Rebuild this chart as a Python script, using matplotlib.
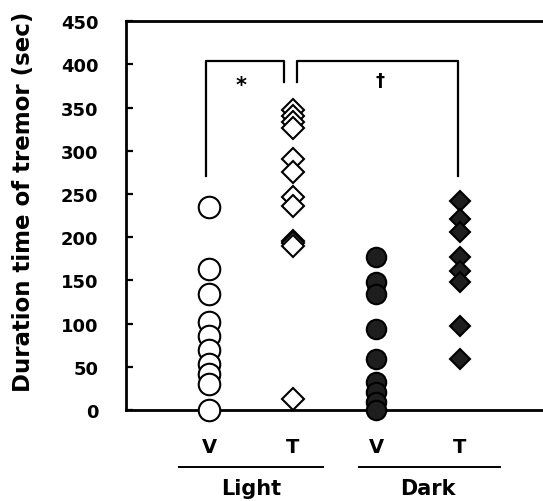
import matplotlib
matplotlib.use("Agg")
import matplotlib.pyplot as plt
import matplotlib.transforms as mtransforms

plt.rcParams['font.family'] = ['DejaVu Sans']
plt.rcParams['font.weight'] = 'bold'

# data (sec)
light_v = [235, 163, 134, 102, 86, 69, 53, 42, 30, 0]
light_t = [347, 340, 333, 326, 290, 275, 246, 236, 196, 193, 190, 13]
dark_v = [177, 148, 134, 94, 59, 32, 21, 9, 0]
dark_t = [242, 221, 206, 177, 161, 148, 97, 59]

group_ticks = ["V", "T", "V", "T"]
groups = ["Light", "Dark"]
yticks = list(range(0, 451, 50))

fig = plt.figure(figsize=(5.43, 5.02), dpi=100)
ax = fig.add_axes([0.232, 0.181, 0.768, 0.775])

ax.plot([1] * len(light_v), light_v, 'o', ms=15.5, mfc='white', mec='black', mew=1.5, ls='none', clip_on=False, zorder=3)
ax.plot([2] * len(light_t), light_t, 'D', ms=11, mfc='white', mec='black', mew=1.5, ls='none', clip_on=False, zorder=3)
ax.plot([3] * len(dark_v), dark_v, 'o', ms=14, mfc='#1e1e1e', mec='black', mew=1.5, ls='none', clip_on=False, zorder=3)
ax.plot([4] * len(dark_t), dark_t, 'D', ms=10.5, mfc='#1e1e1e', mec='black', mew=1.5, ls='none', clip_on=False, zorder=3)

# significance brackets
ax.plot([0.96, 0.96, 1.9, 1.9], [271, 404, 404, 380], color='black', lw=1.6)
ax.plot([2.05, 2.05, 3.98, 3.98], [380, 404, 404, 271], color='black', lw=1.6)
ax.text(1.38, 376, "*", ha='center', va='center', fontsize=15, fontweight='bold')
ax.text(3.05, 382, "\u2020", ha='center', va='center', fontsize=13)

ax.set_xlim(0, 5)
ax.set_ylim(0, 450)
ax.set_yticks(yticks)
ax.set_xticks([1, 2, 3, 4])
ax.set_xticklabels(group_ticks, fontsize=14, fontweight='bold')
ax.tick_params(axis='x', length=0, pad=19)
ax.tick_params(axis='y', direction='in', length=5, width=1.6, labelsize=13, pad=20)
for lab in ax.get_yticklabels():
    lab.set_fontweight('bold')

ax.spines['right'].set_visible(False)
for s in ['left', 'bottom', 'top']:
    ax.spines[s].set_linewidth(2)

ax.set_ylabel("Duration time of tremor (sec)", fontsize=16.5, fontweight='bold')
ax.yaxis.set_label_coords(-0.218, 0.537)

# group lines and labels below the axis
line_starts = [0.63, 2.79]
line_ends = [2.36, 4.49]
label_x = [1.5, 3.62]
trans = mtransforms.blended_transform_factory(ax.transData, ax.transAxes)
for x0, x1, lx, g in zip(line_starts, line_ends, label_x, groups):
    ax.plot([x0, x1], [-0.145, -0.145], color='black', lw=1.4, transform=trans, clip_on=False)
    ax.text(lx, -0.2, g, ha='center', va='center', fontsize=15, fontweight='bold', transform=trans)

fig.savefig("out.png", dpi=100)
